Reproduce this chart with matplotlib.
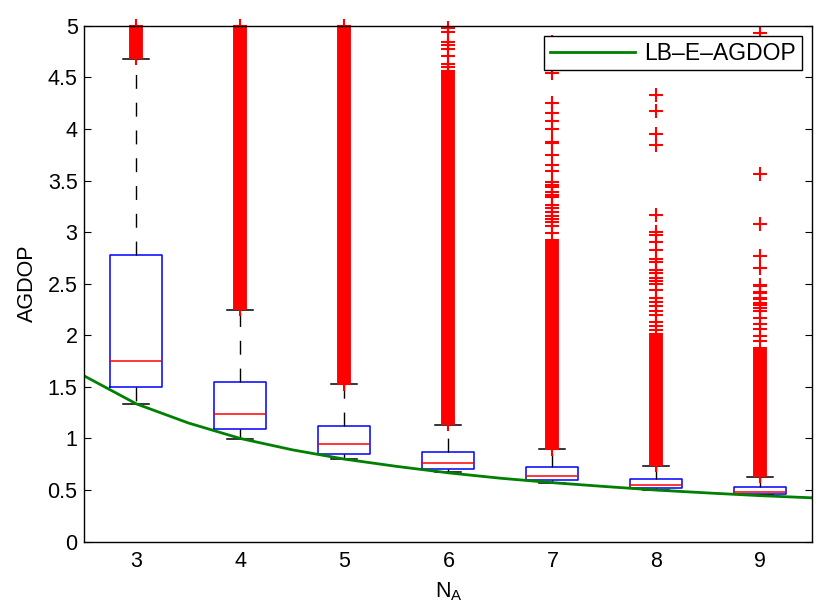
import matplotlib
matplotlib.use("Agg")
import matplotlib.pyplot as plt
import numpy as np

plt.rcParams['font.family'] = ['Liberation Sans', 'DejaVu Sans']
plt.rcParams['mathtext.default'] = 'regular'

# number of anchors
n_a = [3, 4, 5, 6, 7, 8, 9]

# box statistics
whis_lo = [1.335, 0.999, 0.803, 0.674, 0.573, 0.503, 0.448]
q1 = [1.502, 1.093, 0.854, 0.706, 0.600, 0.522, 0.461]
med = [1.753, 1.238, 0.945, 0.761, 0.638, 0.554, 0.484]
q3 = [2.776, 1.547, 1.125, 0.873, 0.719, 0.609, 0.529]
whis_hi = [4.68, 2.244, 1.528, 1.134, 0.896, 0.738, 0.629]

# outliers: dense stretch (lo, hi) plus the separate ones above it
dense_lo = [4.69, 2.25, 1.53, 1.14, 0.90, 0.74, 0.635]
dense_hi = [5.0, 5.0, 5.0, 4.55, 2.93, 2.02, 1.89]
sparse = [
    [4.995],
    [4.995],
    [4.995],
    [4.98, 4.94, 4.845, 4.81, 4.77, 4.71, 4.63, 4.60, 4.56, 4.53],
    [4.84, 4.54, 4.25, 4.15, 4.08, 4.00, 3.87, 3.86, 3.75, 3.65, 3.59,
     3.49, 3.46, 3.44, 3.39, 3.36, 3.34, 3.26, 3.23, 3.19, 3.16, 3.13,
     3.10, 3.06, 2.99],
    [4.33, 4.17, 3.95, 3.84, 3.17, 3.00, 2.97, 2.90, 2.83, 2.74, 2.71,
     2.63, 2.60, 2.56, 2.53, 2.50, 2.44, 2.36, 2.32, 2.28, 2.24, 2.20,
     2.13, 2.09, 2.05],
    [4.93, 3.56, 3.08, 2.77, 2.65, 2.49, 2.48, 2.42, 2.41, 2.36, 2.35,
     2.31, 2.29, 2.26, 2.24, 2.17, 2.11, 2.06, 1.99, 1.94],
]

# lower bound curve
lb_x = [2.5, 3, 3.5, 4, 4.5, 5, 5.5, 6, 6.5, 7, 7.5, 8, 8.5, 9, 9.5]
lb_y = [1.605, 1.335, 1.15, 1.00, 0.89, 0.80, 0.73, 0.667, 0.615, 0.572,
        0.535, 0.50, 0.472, 0.446, 0.425]

fig = plt.figure(figsize=(8.3, 6.15), dpi=100)
ax = fig.add_axes([0.1018, 0.1192, 0.877, 0.839])

# dense outlier columns
ax.vlines(n_a, dense_lo, dense_hi, colors='red', linewidth=10, zorder=2)

stats = []
for i in range(len(n_a)):
    stats.append(dict(med=med[i], q1=q1[i], q3=q3[i], whislo=whis_lo[i],
                      whishi=whis_hi[i],
                      fliers=np.array(sparse[i] + [dense_lo[i]])))

bp = ax.bxp(stats, positions=n_a, widths=0.5, manage_ticks=False,
            boxprops=dict(color='blue', linewidth=1.1),
            medianprops=dict(color='red', linewidth=1.1),
            whiskerprops=dict(color='black', linewidth=1.0, linestyle=(0, (10, 10))),
            capprops=dict(color='black', linewidth=1.1),
            flierprops=dict(marker='+', markersize=10, markeredgewidth=1.5,
                            markeredgecolor='red', linestyle='none'))
for f in bp['fliers']:
    f.set_clip_on(False)
    f.set_zorder(3)

ax.plot(lb_x, lb_y, color=(0, 0.5, 0), linewidth=2, label='LB–E–AGDOP', zorder=4)

ax.set_xlim(2.5, 9.5)
ax.set_ylim(0, 5)
ax.set_xticks(n_a)
ax.set_xticklabels([str(v) for v in n_a])
ax.set_yticks(np.arange(0, 5.01, 0.5))
ax.set_yticklabels(['0', '0.5', '1', '1.5', '2', '2.5', '3', '3.5', '4', '4.5', '5'])
ax.tick_params(axis='y', direction='in', length=5, right=True, labelsize=15.5, pad=5)
ax.tick_params(axis='x', length=0, labelsize=15.5, pad=7)
for s in ax.spines.values():
    s.set_linewidth(1.0)
    s.set_zorder(5)

ax.set_xlabel('N$_{A}$', fontsize=15.5, labelpad=6)
ax.set_ylabel('AGDOP', fontsize=15.5, labelpad=7)

leg = ax.legend(loc='upper right', fontsize=16.5, handlelength=3.75, handletextpad=0.4,
                borderpad=0.25, borderaxespad=0.45, fancybox=False, framealpha=1)
leg.get_frame().set_edgecolor('black')
leg.get_frame().set_linewidth(1.0)
leg.set_zorder(6)

fig.savefig('out.png', dpi=100)
